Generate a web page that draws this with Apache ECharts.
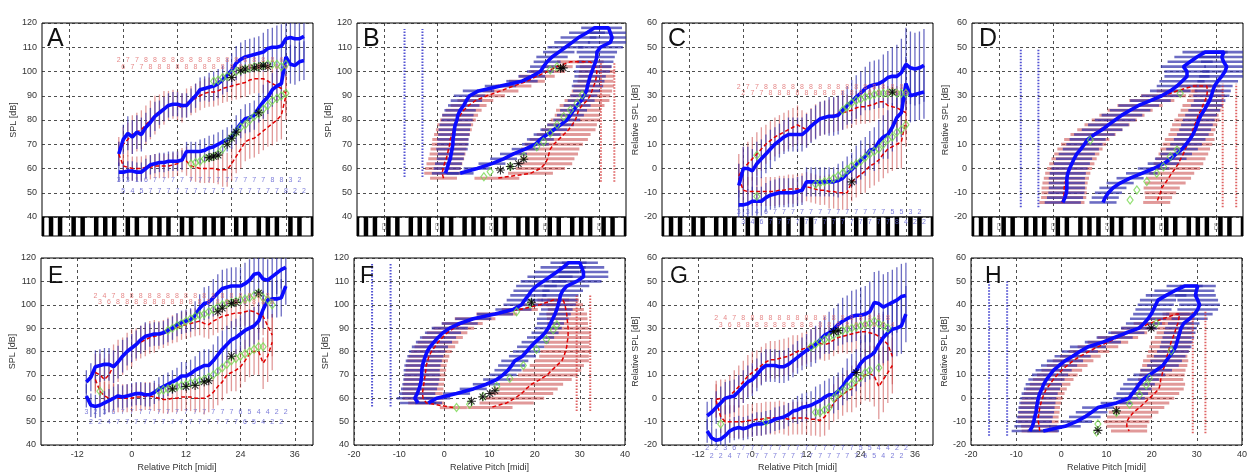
<!DOCTYPE html>
<html><head><meta charset="utf-8">
<script src="https://cdn.jsdelivr.net/npm/echarts@6/dist/echarts.min.js"></script>
<style>html,body{margin:0;padding:0;background:#fff;}#c{width:1250px;height:473px;}</style>
</head><body><div id="c"></div>
<script>
const n = null;
// ---------- shared axis data ----------
const keyPitches = [36,48,60,72,84];
const keyNames = ['C2','C3','C4','C5','C6'];
const blackKeys = [30,32,34,37,39,42,44,46,49,51,54,56,58,61,63,66,68,70,73,75,78,80,82,85,87,90];
const relTicks = [-12,0,12,24,36];

// ---------- Panel A (SPL vs MIDI pitch) ----------
const A_pitch = [47,48,49,50,51,52,53,54,55,56,57,58,59,60,61,62,63,64,65,66,67,68,69,70,71,72,73,74,75,76,77,78,79,80,81,82,83,84,85,86,87,88];
const A_upBlue = [66,72,74.5,73,75,74,77,79,81.5,83,84.5,86,86.5,86.5,86,86,88,90,92.5,93,93.5,94,95,96.5,98.5,100.5,103.5,105,106,106.5,107,107.5,108,109.5,110,110,110.5,113.5,114,113.5,113.5,114.5];
const A_loBlue = [58.5,58.5,59,59,58.5,58.5,60,61.5,62,62.5,62.5,63,63,63,63.5,67,67,67,67,67.5,68.5,69,70,71,72,73,76,78.5,80.5,81,82,85,87.5,89.5,92.5,94,95,106,103,102.5,104,104.5];
const A_upRed = [67,70,72,74,75,76,78,80,82,83.5,85,86,86.5,86,85,87,88,89,90,91,91.5,91.5,92,93,93.5,94,94.5,95,95.5,96.5,97,97,97,96,95,94,93,91,n,n,n,n];
const A_loRed = [66,61,60.5,60,60,60,60.5,60.5,61,61,61,61,61.5,62,63.5,63,61,60.5,60,60,60,60,59.5,59.5,59.5,62,65,68,71,72,72.5,74,75.5,77,78.5,80,82,90,n,n,n,n];
const A_sdUpBlue = [5,6,7,7,7,7,6,6,6,5,5,5,5,5,5,5,5,5,5,5,6,6,6,6,7,7,7,7,7,7,7,7,8,8,8,9,9,9,10,10,10,10];
const A_sdLoBlue = [4,4,4,4,4,4,4,4,4,4,4,4,4,4,4,4,4,4,5,5,5,5,5,5,5,5,6,6,6,6,6,6,7,7,7,7,7,8,8,8,8,8];
const A_sdUpRed = [6,7,7,8,8,8,8,8,8,7,7,6,6,6,6,6,6,6,6,6,6,6,6,6,6,6,6,6,6,6,6,6,6,6,7,7,8,8,n,n,n,n];
const A_sdLoRed = [5,5,5,5,5,5,5,5,5,5,5,5,5,5,5,6,6,6,6,6,6,6,6,7,7,7,7,8,8,8,8,8,8,8,9,9,10,10,n,n,n,n];
const A_redCount = [2,6,7,7,7,7,8,8,8,8,8,8,8,8,8,8,8,8,8,8,8,8,8,8,8,8,8,8,8,8,8,8,8,8,8,8,6,6,n,n,n,n];
const A_blueCount = [3,5,3,4,1,5,6,7,7,7,7,7,7,7,7,7,7,7,7,7,7,7,7,7,7,7,7,7,7,7,7,7,7,7,8,7,8,8,3,2,2,2];
const A_green = [[68,96],[69,96.5],[70,97.5],[71,98],[72,99],[73,100],[74,100.5],[75,101],[76,101.5],[77,102],[78,102],[79,102.5],[80,103],[81,103],[82,103],[83,102],[84,103],[63,62],[64,62.5],[65,63],[66,64],[67,64.5],[68,65],[69,66],[70,68],[71,71],[72,73],[73,75],[74,77],[75,78],[76,80],[77,81.5],[78,82.5],[79,84.5],[80,86],[81,88],[82,89],[83,90],[84,91]];
const A_star = [[72,97.5],[74,100.5],[75,101],[77,101.5],[78,102],[79,102.5],[80,102],[67,64.5],[68,65],[69,65.5],[71,70],[72,72.5],[73,75],[78,83]];

// ---------- Panel C (relative SPL vs MIDI pitch) ----------
const C_pitch = A_pitch;
const C_upBlue = [-7,0,0,-1,2,4,6,8,10,11.5,13,14,14,14,14,15.5,17.5,19,20.5,21,21.5,21.5,22,24,26,27.5,29.5,31,33,34,34.5,35,36,37.5,38,38,39.5,43,41.5,41,41.5,42.5];
const C_loBlue = [-15,-15,-14.5,-13.5,-13.5,-13.5,-12,-11,-10.5,-10,-10,-10,-10,-9.5,-9,-5.5,-5.5,-5.5,-5.5,-5.5,-5.5,-5.5,-5,-4,-2,-0.5,1.5,3.5,5,7.5,8,11,13,14,17,21,23,35,30,30.5,31,31.5];
const C_upRed = [-3,0,2,4,6,8,10,11.5,13,14,15,16,17,18,17,16,18,19.5,20.5,21,21.5,22,22.5,23,23.5,24,25,25.5,25.5,26,26.5,27.5,27.5,26,25.5,25,24,23,n,n,n,n];
const C_loRed = [-4,-9,-9.5,-9.5,-9.5,-9.5,-9.5,-9.5,-9.5,-9,-9,-8.5,-8.5,-8.5,-8,-7.5,-8,-8.5,-9,-9,-9.5,-9.5,-10,-10,-10,-5.5,-4,-2.5,-1,1,2,3.5,6,8,9,10,11,20,n,n,n,n];
const C_sdUpBlue = [9,9,9,9,9,8,8,8,7,7,7,7,7,7,7,7,7,7,7,7,8,8,8,8,8,9,9,9,9,10,10,10,11,11,12,13,14,15,15,15,15,15];
const C_sdLoBlue = [6,6,6,6,6,6,6,6,6,6,6,6,6,6,6,6,6,6,6,6,6,6,7,7,7,7,8,8,8,8,9,9,9,10,10,10,10,11,11,11,11,11];
const C_sdUpRed = [9,9,9,9,9,9,8,8,8,8,8,8,8,8,7,7,7,7,7,7,7,7,7,7,7,7,7,7,7,7,7,7,8,8,8,9,9,9,n,n,n,n];
const C_sdLoRed = [6,6,6,6,6,6,6,6,6,6,6,6,6,6,6,6,6,6,6,6,7,7,7,7,7,8,8,8,9,9,9,9,10,10,10,10,11,11,n,n,n,n];
const C_redCount = [2,2,7,7,7,7,8,8,8,8,8,8,8,8,8,8,8,8,8,8,8,8,8,8,8,8,8,8,8,8,8,8,8,8,8,8,8,8,n,n,n,n];
const C_blueCount = [3,3,3,4,4,6,6,7,7,7,7,7,7,7,7,7,7,7,7,7,7,7,7,7,7,7,7,7,7,7,7,7,7,7,5,8,5,4,3,2,2,2];
const C_green = [[70,24],[71,25.5],[72,27],[73,28],[74,28.5],[75,29.5],[76,30],[77,30.5],[78,31],[79,31],[80,31],[81,31.5],[82,31],[83,31],[84,31],[64,-6.5],[65,-6],[66,-5.5],[67,-5],[68,-4],[69,-3],[70,-2],[71,-0.5],[72,1],[73,2],[74,3],[75,4.5],[76,6],[77,7],[78,8],[79,10],[80,12],[81,13],[82,15],[83,16],[84,18],[51,5.5],[51,-11.5]];
const C_star = [[72,-5.5],[81,31.5]];

// ---------- Panel E (SPL vs relative pitch) ----------
const E_pitch = [-10,-9,-8,-7,-6,-5,-4,-3,-2,-1,0,1,2,3,4,5,6,7,8,9,10,11,12,13,14,15,16,17,18,19,20,21,22,23,24,25,26,27,28,29,30,31,32,33,34];
const E_upBlue = [67,69,73.5,74,74.5,74.5,73.5,75.5,78,80,81.5,83,85,86.5,87,87.5,87.5,88,89,90,91.5,92.5,93,93.5,95.5,98.5,100.5,101,103,105,107,107.5,108,108,108,109,110.5,113,113.5,111,110.5,112,113.5,115,116];
const E_loBlue = [61,57,56.5,57,58,59,60,61,60.5,61,61.5,62,62,61.5,61.5,62.5,64,65,66,67,68,69.5,69.5,70.5,72,73,74,74,76,78.5,81,83,85,86,87.5,89,90,91,93,98,102,102.5,102.5,103,108];
const E_upRed = [n,n,71,70,68,70,74,76,78,80,81.5,83,84,85,86,86.5,87,87.5,88.5,89.5,90,91,91.5,92,92.5,93,92,91.5,93,94,95,95.5,96,96.5,96.5,97,97.5,97,96,95,91,87,n,n,n];
const E_loRed = [n,n,68,63,61,60,60,60,60,60,60,60.5,60.5,61,61,60.5,60,59.5,59.5,60,60,60.5,60.5,60.5,60,60,60,61,62.5,65,67,70,71,72,73.5,76,79,80,80,75,78,84,n,n,n];
const E_sdUpBlue = [5,6,7,7,7,7,7,7,7,6,6,6,6,6,5,5,5,5,5,5,5,5,5,5,6,6,7,7,8,8,8,8,8,8,8,9,9,9,9,9,9,9,9,8,8];
const E_sdLoBlue = [5,5,5,5,5,5,5,5,5,5,5,5,5,5,5,5,5,5,5,5,5,6,6,6,6,7,7,7,7,8,8,8,8,8,8,8,8,8,8,8,8,8,8,8,8];
const E_sdUpRed = [n,n,8,9,9,9,9,9,8,8,8,7,7,7,7,7,6,6,6,6,6,6,6,6,6,6,6,6,6,6,6,6,6,6,6,6,7,7,8,8,9,9,n,n,n];
const E_sdLoRed = [n,n,6,6,6,6,6,6,6,6,6,6,6,6,6,6,6,6,6,6,6,6,6,6,6,6,7,7,7,8,8,8,8,9,9,9,10,10,10,11,11,12,n,n,n];
const E_redCount = [n,n,2,3,4,6,7,8,8,8,8,8,8,8,8,8,8,8,8,8,8,8,8,8,8,8,8,8,8,8,8,8,8,8,8,8,8,8,8,8,8,8,n,n,n];
const E_blueCount = [3,2,2,2,3,4,6,7,7,7,7,7,7,7,7,7,7,7,7,7,7,7,7,7,7,7,7,7,7,7,7,7,7,7,6,6,5,5,4,4,4,2,2,2,2];
const E_green = [[-7,63],[8,89],[9,90],[10,91],[11,92],[12,93],[13,94],[14,95],[15,95.5],[16,96],[17,97],[18,98],[19,99],[20,100],[21,100.5],[22,101],[23,101.5],[24,102],[25,102.5],[26,103],[27,104],[28,105],[29,103],[30,102],[31,100],[6,63],[7,63.5],[8,64],[9,64.5],[10,65],[11,65.5],[12,66],[13,66.5],[14,67],[15,67.5],[16,68],[17,69],[18,70],[19,71.5],[20,73],[21,74.5],[22,76],[23,77],[24,78],[25,79],[26,80],[27,81],[28,82],[29,82]];
const E_star = [[19,97],[20,98.5],[22,100.5],[23,101],[28,105],[9,64],[12,65],[14,65.5],[16,67],[17,67.5],[22,78]];

// ---------- Panel G (relative SPL vs relative pitch) ----------
const G_pitch = E_pitch;
const G_upBlue = [-7.5,-6,-4,-2,0,0.5,1,3,5,7,8,10,12.5,14,14,14,13.5,13.5,14.5,16,17.5,19,20.5,21.5,23,25,27,28,29.5,31.5,33,34,35,35.5,35.5,36,37,41,40.5,39,40,41,42,43.5,44];
const G_loBlue = [-14,-17,-18,-17.5,-16,-14,-13,-12.5,-13,-12.5,-11.5,-11,-11,-10.5,-10,-9,-8.5,-8,-7,-5.5,-5,-4,-3.5,-3,-2,-1,0.5,1.5,1.5,3,5,8,10,12,15,17,18,19.5,23,26,28,29.5,30,31,36];
const G_upRed = [n,n,-0.5,0,-1,1,3,5,7,9.5,11,12.5,14,15.5,16.5,16.5,17,17.5,18,19,20,21,21.5,22.5,23.5,23.5,23,23.5,25,26,26.5,27,27.5,28,28.5,28.5,28,27.5,26.5,25,23,18,n,n,n];
const G_loRed = [n,n,-1,-8,-10,-10,-10,-10,-10,-9.5,-9.5,-9,-9,-8.5,-8.5,-8.5,-8,-8.5,-9,-8.5,-8.5,-8.5,-8.5,-9,-9,-9.5,-8,-5.5,-2,0,1.5,3,4,6,8.5,10,10.5,9.5,5,8,11,14,n,n,n];
const G_sdUpBlue = [6,6,7,7,7,7,7,7,7,7,7,7,7,7,7,7,7,7,7,7,7,7,7,8,8,8,8,9,9,9,10,10,11,11,12,12,13,13,14,14,14,14,14,14,14];
const G_sdLoBlue = [5,5,5,5,5,5,5,5,5,5,5,5,5,5,5,5,5,5,5,5,6,6,6,6,7,7,7,7,8,8,8,9,9,9,10,10,10,11,11,11,12,12,12,12,12];
const G_sdUpRed = [n,n,8,8,9,9,9,9,9,9,9,8,8,8,8,8,8,8,8,8,7,7,7,7,7,7,7,7,7,7,7,8,8,8,8,9,9,10,10,11,12,12,n,n,n];
const G_sdLoRed = [n,n,7,7,7,7,7,7,7,7,7,7,7,7,7,7,7,7,7,7,7,7,7,7,7,7,8,8,8,9,9,9,10,10,11,11,12,13,14,14,13,12,n,n,n];
const G_redCount = [n,n,2,3,4,6,7,8,8,8,8,8,8,8,8,8,8,8,8,8,8,8,8,8,8,8,8,8,8,8,8,8,8,8,8,8,8,8,8,8,8,4,n,n,n];
const G_blueCount = [2,2,2,2,3,4,6,7,7,7,7,7,7,7,7,7,7,7,7,7,7,7,7,7,7,7,7,7,7,7,7,7,7,7,5,6,5,5,4,4,4,2,2,2,2];
const G_green = [[-7,-11],[13,22],[14,23],[15,24],[16,25],[17,26],[18,27],[19,28],[20,29],[21,29.5],[22,30],[23,30.5],[24,31],[25,31.5],[26,32],[27,33],[28,32],[29,31],[30,30],[3,-10],[14,-6],[15,-6],[16,-5],[17,-4],[18,0],[19,2],[20,3],[21,5],[22,6],[23,8],[24,9],[25,11],[26,12],[28,13]];
const G_star = [[18,28.5],[19,29],[23,11]];

// ---------- Panel B (pitch vs SPL level, loop) ----------
const B_spl = [56,58,60,62,64,66,68,70,72,74,76,78,80,82,84,86,88,90,92,94,96,98,100,102,104,106,108,110,112,114,116,118];
const B_blueL = [n,49.7,50.1,50.4,50.8,51,51.2,51.4,51.4,51.6,51.7,51.9,52.3,52.5,53,53.8,54.4,55.1,57.1,62,66.8,69,70.9,71.6,72.4,73.5,75,76.5,78,79.4,81.3,83];
const B_blueR = [n,53,56.8,60.1,62.7,64.9,67.5,69.8,70.9,72.4,73.9,75.4,76.8,77.6,78.3,79.1,80,80.6,81.2,81.4,81.7,82,82.4,82.8,83.2,83.5,83.5,84.3,86.5,86.9,86.5,86.1];
const B_redL = [49.3,49,49.2,49.5,49.9,50.2,50.4,50.7,50.8,51.2,51.6,51.9,52.5,53,53.8,54.9,56.4,59,62,64.9,67.9,70.1,72.4,74.6,77.6,n,n,n,n,n,n,n];
const B_redR = [61.2,68.7,70.9,72,72.5,72.8,73.1,73.9,75,76.1,77.2,78,78.7,79.1,79.4,80.2,81.3,82,82.4,82.8,83.2,83.4,83.5,83.2,82,n,n,n,n,n,n,n];
const B_sdBL = [n,3,3,3,3,3,3.5,3.5,3.5,3.5,3.5,3.5,3.5,3.5,3.5,3.5,3.5,3.5,3.5,3.5,3.5,3,3,3,3,3.5,3.5,4,4,4,4,3];
const B_sdBR = [n,3,3,3,3,3,3,3,3,3,3,3,3,3,3,3,3,3,3,3.5,3.5,3.5,4,4,4,4,4.5,5,5,5,4.5,3];
const B_sdRL = [3,4,4,4,4,4,4,4,4,4,4,4,4,4,4,4,4,4,4,4,4,4,4,3.5,3,n,n,n,n,n,n,n];
const B_sdRR = [5,5,5.5,6,6,6.5,6.5,6.5,6.5,6,6,5.5,5.5,5,5,5,5,4.5,4.5,4.5,4,4,4,3.5,3,n,n,n,n,n,n,n];
const B_green = [[58.3,56.6],[59.7,58.7],[64.2,60.8],[67.2,64.9],[70.1,69],[71.6,71],[73.1,74.5],[74.6,78],[76.1,81.4],[77.6,84.1],[79.1,86.9],[80.2,90.3],[73.1,100.6],[74.6,102]];
const B_star = [[62,59.4],[64.2,60.8],[66,62],[67.2,63.8],[75.4,101.3],[76,101.5]];
const B_colBlue = [40.6,44.6], B_colBlueRange = [56.5,117.5];
const B_colRed = [84.4,87.4], B_colRedRange = [54.5,104];

// ---------- Panel D ----------
const D_spl = [-14,-12,-10,-8,-6,-4,-2,0,2,4,6,8,10,12,14,16,18,20,22,24,26,28,30,32,34,36,38,40,42,44,46,48];
const D_blueL = [50.1,50.6,50.9,51,51,51,51.2,51.6,52.1,52.6,53.2,54.1,54.9,55.6,57.1,58.8,60.2,61.7,63.2,65,66.9,69.5,72,73.9,75.4,76.5,77.6,77.6,76.8,78.3,79.8,81.6];
const D_blueR = [59,59.5,60.2,61.2,62.8,65,67.6,70.2,72.4,74,75.2,76.5,77.4,78.2,78.9,79.4,79.8,80.2,80.7,81.4,82,82.6,83,83.3,83.7,84.4,85.3,86,86.4,85.7,85.3,85.8];
const D_redL = [49.9,50.3,50.4,50.4,50.6,50.9,51.2,51.6,52.1,52.6,53.2,53.9,54.7,55.4,56.8,58.3,59.9,61.5,63.2,65,67.2,69.8,72.4,75.4,79,n,n,n,n,n,n,n];
const D_redR = [70.9,71.3,71.7,72,72.8,73.5,74.2,75,75.7,76.2,76.8,77.2,77.7,78.2,78.5,78.9,79.3,79.8,80.1,80.7,81.1,81.6,82,82.1,82,n,n,n,n,n,n,n];
const D_sdBL = [4,4,4,4,4,4,4,4,4,4,4,4,4,4,4.5,4.5,4.5,4.5,4.5,4.5,4.5,4.5,4.5,4.5,4.5,5,5,5,5,5,5,5];
const D_sdBR = [3,3,3,3,3,3,3.5,3.5,3.5,3.5,3.5,3.5,3.5,3.5,3.5,3.5,3.5,3.5,3.5,3.5,3.5,3.5,4,4,4,4.5,5,5,5,5,5,5];
const D_sdRL = [5,5,5,5,5,5,5,5,5,5,5,5,5,5,5,5,5,5,5,5,5,5,5,4.5,4,n,n,n,n,n,n,n];
const D_sdRR = [3,3,3.5,4,4.5,5,5,5.5,5.5,5.5,5.5,5.5,5.5,5.5,5,5,5,5,4.5,4.5,4.5,4,4,3.5,3,n,n,n,n,n,n,n];
const D_green = [[56.2,11.75],[76.1,31],[65,-13],[66.5,-8.9],[68.7,-5.4],[70.9,-2],[72.4,0.75],[73.9,4.9],[75.4,7.6]];
const D_star = [];
const D_colBlue = [40.8,44.7], D_colBlueRange = [-16,49.5];
const D_colRed = [85.5,88.5], D_colRedRange = [-16,35];

// ---------- Panel F ----------
const F_spl = B_spl;
const F_blueL = [n,-5.8,-6.55,-6,-5.6,-5.3,-5.1,-5,-5,-4.85,-4.55,-4.2,-3.8,-3.2,-2.3,-1.4,-0.3,1.2,3.4,6.4,11.2,15.3,17.1,17.8,18.6,19.3,20.4,21.9,23.4,24.9,26.3,27.5];
const F_blueR = [n,-3.5,-1.7,2.7,6.4,9.3,11.6,13,14.1,14.9,15.6,17.3,18.2,19.1,20.1,21.3,22.3,23,23.5,24,24.5,24.9,25.2,25.5,25.7,26.2,27.1,29.3,30.8,30.8,30.4,30];
const F_redL = [2,-4,-4.7,-4.85,-4.7,-4.55,-4.4,-4.25,-4.1,-4,-3.7,-3.4,-2.85,-2.1,-1.4,-0.4,0.6,2.1,4,6.8,11.6,16.7,21.2,24.1,n,n,n,n,n,n,n,n];
const F_redR = [10.1,13.8,15.6,17.1,18.1,19.3,21.2,22.8,23.8,24.9,26,26.5,26.8,27.1,27.2,27.4,27.4,27.4,27.3,27.2,27.1,26.9,26.7,26.3,n,n,n,n,n,n,n,n];
const F_sdBL = [n,4,4,4,4,4,4,4,4,4,4,4,4,4,4,4,4,4,4,4,4,4,4,4,4,4,4.5,5,5,5,5,4];
const F_sdBR = [n,3,3,3,3,3,3,3,3,3,3,3,3,3,3,3,3,3,3,3.5,3.5,3.5,4,4,4,4.5,5,5.5,5.5,5.5,5,4];
const F_sdRL = [3,4,4.5,4.5,4.5,4.5,4.5,4.5,4.5,4.5,4.5,4.5,4.5,4.5,4.5,4.5,4.5,4.5,4.5,4.5,4.5,4,4,3.5,n,n,n,n,n,n,n,n];
const F_sdRR = [5,6,6.5,7,7,7,7,6.5,6.5,6,6,5.5,5.5,5,5,5,5,4.5,4.5,4.5,4.5,4,4,3.5,n,n,n,n,n,n,n,n];
const F_green = [[2.7,56],[5.6,57.4],[8.6,60.8],[11.6,65],[14.5,68.5],[17.5,74],[20.4,81],[22.6,85.1],[24.1,89.3],[24.9,91.4],[19,100.4],[16,97]];
const F_star = [[6,58.75],[8.5,60.6],[10.1,62],[11.2,63.2],[19.3,101.1]];
const F_colBlue = [-16,-11.9], F_colBlueRange = [56.5,118];
const F_colRed = [29.3,32.3], F_colRedRange = [54.5,104];

// ---------- Panel H ----------
const H_spl = [-16,-14,-12,-10,-8,-6,-4,-2,0,2,4,6,8,10,12,14,16,18,20,22,24,26,28,30,32,34,36,38,40,42,44,46,48];
const H_blueL = [n,-7,-6.4,-6.1,-5.9,-5.6,-5.5,-5.3,-5.1,-4.8,-4.3,-3.9,-3.3,-2.5,-1.7,-0.5,0.8,2.5,4.1,5.9,9.2,11.8,14.4,17.2,18.3,19.2,19.9,20.4,20.9,21.4,23.2,25.1,27.3];
const H_blueR = [n,-4,0.8,3.3,5.2,6.7,8.1,12.2,15,15.7,16.5,17.2,18.1,19.5,21,22.5,23.2,24,24.7,25.3,25.6,25.9,26.2,26.5,27.1,28.4,29.5,30.2,30.6,30.2,29.7,29.9,30.2];
const H_redL = [n,-4.8,-4.9,-5.1,-5.1,-4.9,-4.8,-4.5,-4.2,-3.8,-3.3,-2.5,-1.8,-0.9,0.1,1.3,2.6,4.2,6.1,8.1,10.3,12.5,15,17.3,19.5,22.5,25.4,n,n,n,n,n,n];
const H_redR = [n,15,14.5,14.5,15.1,16,17.3,18.4,19.5,20.6,21.6,21.9,22,22.3,22.5,22.9,23.1,23.4,23.7,24,24.3,24.7,25.1,25.4,25.8,26,26.2,n,n,n,n,n,n];
const H_sdBL = [n,4,4,4,4,4,4,4,4,4,4,4,4,4,4,4,4,4,4,4,4,4,4,4,4,4,4,4,4,4,4.5,4.5,4];
const H_sdBR = [n,3.5,3.5,3.5,3.5,3.5,3.5,3.5,3.5,3.5,3.5,3.5,3.5,3.5,3.5,3.5,3.5,3.5,3.5,3.5,3.5,3.5,3.5,3.5,3.5,4,4,4.5,4.5,4.5,4.5,4,4];
const H_sdRL = [n,4,4,4.5,4.5,4.5,4.5,4.5,4.5,4.5,4.5,4.5,4.5,4.5,4.5,4.5,4.5,4.5,4.5,4.5,4.5,4.5,4,4,3.5,3.5,3,n,n,n,n,n,n];
const H_sdRR = [n,4,4.5,5,5,5.5,5.5,5.5,5.5,5.5,5.5,5.5,5,5,5,5,5,4.5,4.5,4.5,4.5,4,4,4,3.5,3.5,3,n,n,n,n,n,n];
const H_green = [[8.1,-11],[7.8,-14.4],[12.2,-6.1],[15.1,-2.6],[17.3,1.5],[18.8,5.7],[19.5,8.5],[24.3,20.3],[21,32.1]];
const H_star = [[8.1,-13.75],[12.2,-5.4],[19.9,30]];
const H_colBlue = [-16,-12], H_colBlueRange = [-16,50];
const H_colRed = [29.1,31.9], H_colRedRange = [-15,37];

// ---------- panel configuration (layout / style) ----------
const P = [
 {L:'A',g:[42,23,271,194],lt:[42,22],kind:'line',top:true,ymin:40,yname:'SPL [dB]',pitch:A_pitch,ub:A_upBlue,lb:A_loBlue,ur:A_upRed,lr:A_loRed,sub:A_sdUpBlue,slb:A_sdLoBlue,sur:A_sdUpRed,slr:A_sdLoRed,rc:A_redCount,bc:A_blueCount,redRows:[104.7,102],blueRows:[55.3,50.5],green:A_green,star:A_star,keyLabels:false},
 {L:'B',g:[357,23,269,194],lt:[358,22],kind:'loop',top:true,ymin:40,yname:'SPL [dB]',spl:B_spl,bl:B_blueL,br:B_blueR,rl:B_redL,rr:B_redR,sbl:B_sdBL,sbr:B_sdBR,srl:B_sdRL,srr:B_sdRR,green:B_green,star:B_star,cb:B_colBlue,cbr:B_colBlueRange,cr:B_colRed,crr:B_colRedRange,keyLabels:true},
 {L:'C',g:[662,23,271,194],lt:[663,22],kind:'line',top:true,ymin:-20,yname:'Relative SPL [dB]',pitch:C_pitch,ub:C_upBlue,lb:C_loBlue,ur:C_upRed,lr:C_loRed,sub:C_sdUpBlue,slb:C_sdLoBlue,sur:C_sdUpRed,slr:C_sdLoRed,rc:C_redCount,bc:C_blueCount,redRows:[33.7,31],blueRows:[-17.8,-22],green:C_green,star:C_star,keyLabels:false},
 {L:'D',g:[972,23,271,194],lt:[974,22],kind:'loop',top:true,ymin:-20,yname:'Relative SPL [dB]',spl:D_spl,bl:D_blueL,br:D_blueR,rl:D_redL,rr:D_redR,sbl:D_sdBL,sbr:D_sdBR,srl:D_sdRL,srr:D_sdRR,green:D_green,star:D_star,cb:D_colBlue,cbr:D_colBlueRange,cr:D_colRed,crr:D_colRedRange,keyLabels:true},
 {L:'E',g:[41,258,272,192],lt:[43,260],kind:'line',top:false,rel12:true,ymin:40,yname:'SPL [dB]',pitch:E_pitch,ub:E_upBlue,lb:E_loBlue,ur:E_upRed,lr:E_loRed,sub:E_sdUpBlue,slb:E_sdLoBlue,sur:E_sdUpRed,slr:E_sdLoRed,rc:E_redCount,bc:E_blueCount,redRows:[103.9,101.1],blueRows:[53.9,49.7],green:E_green,star:E_star},
 {L:'F',g:[354,258,271,192],lt:[355,260],kind:'loop',top:false,ymin:40,yname:'SPL [dB]',spl:F_spl,bl:F_blueL,br:F_blueR,rl:F_redL,rr:F_redR,sbl:F_sdBL,sbr:F_sdBR,srl:F_sdRL,srr:F_sdRR,green:F_green,star:F_star,cb:F_colBlue,cbr:F_colBlueRange,cr:F_colRed,crr:F_colRedRange},
 {L:'G',g:[662,258,271,192],lt:[665,260],kind:'line',top:false,rel12:true,ymin:-20,yname:'Relative SPL [dB]',pitch:G_pitch,ub:G_upBlue,lb:G_loBlue,ur:G_upRed,lr:G_loRed,sub:G_sdUpBlue,slb:G_sdLoBlue,sur:G_sdUpRed,slr:G_sdLoRed,rc:G_redCount,bc:G_blueCount,redRows:[34.2,31.4],blueRows:[-21.4,-24.9],green:G_green,star:G_star},
 {L:'H',g:[971,258,272,192],lt:[980,260],kind:'loop',top:false,ymin:-20,yname:'Relative SPL [dB]',spl:H_spl,bl:H_blueL,br:H_blueR,rl:H_redL,rr:H_redR,sbl:H_sdBL,sbr:H_sdBR,srl:H_sdRL,srr:H_sdRR,green:H_green,star:H_star,cb:H_colBlue,cbr:H_colBlueRange,cr:H_colRed,crr:H_colRedRange}
];

const FONT = '"Liberation Sans", Arial, sans-serif';
const BLUE = '#0b0bff', RED = '#e00000';
const BARB = 'rgba(45,45,170,0.7)', BARR = 'rgba(200,70,70,0.55)';
const GREEN = '#78d850';
const grids = [], xAxes = [], yAxes = [], series = [], titles = [];

function vb(xs, vs, sd){ const o=[]; xs.forEach((x,i)=>{ if(vs[i]!=null && sd[i]!=null) o.push([x, vs[i], sd[i]]); }); return o; }
function hb(levels, xs, sd){ const o=[]; levels.forEach((v,i)=>{ if(xs[i]!=null && sd[i]!=null) o.push([xs[i], v, sd[i]]); }); return o; }
function pts(xs, vs){ const o=[]; xs.forEach((x,i)=>{ if(vs[i]!=null) o.push([x, vs[i]]); }); return o; }
function loop(levels, L, R){
  const a=[], b=[];
  levels.forEach((v,i)=>{ if(L[i]!=null) a.push([L[i],v]); if(R[i]!=null) b.push([R[i],v]); });
  return a.concat(b.reverse());
}
function countPts(xs, counts, rows){ const o=[]; xs.forEach((x,i)=>{ if(counts[i]!=null) o.push([x, rows[i%2], counts[i]]); }); return o; }

function barSeries(gi, data, color, horiz, w){
  return {type:'custom', xAxisIndex:gi, yAxisIndex:gi, clip:true, silent:true, z:2, data, encode:{x:0,y:1},
    renderItem:(params, api)=>{
      const x=api.value(0), y=api.value(1), s=api.value(2);
      const a = horiz ? api.coord([x-s,y]) : api.coord([x,y-s]);
      const b = horiz ? api.coord([x+s,y]) : api.coord([x,y+s]);
      return {type:'line', shape:{x1:a[0],y1:a[1],x2:b[0],y2:b[1]}, style:{stroke:color, lineWidth:w}};
    }};
}
function lineSeries(gi, data, color, w, dash, z){
  return {type:'line', xAxisIndex:gi, yAxisIndex:gi, data, symbol:'none', showSymbol:false, silent:true, z:z||4,
    lineStyle:{color, width:w, type: dash||'solid'}, clip:true};
}
function markers(gi, p){
  series.push({type:'scatter', xAxisIndex:gi, yAxisIndex:gi, data:p.green, symbol:'diamond', symbolSize:[6,8], silent:true, z:6,
    itemStyle:{color:'rgba(0,0,0,0)', borderColor:GREEN, borderWidth:1.2}});
  const plus = 'path://M4.4,0H5.6V4.4H10V5.6H5.6V10H4.4V5.6H0V4.4H4.4Z';
  [0,45].forEach(r=>series.push({type:'scatter', xAxisIndex:gi, yAxisIndex:gi, data:p.star, symbol:plus, symbolSize:9, symbolRotate:r, silent:true, z:7,
    itemStyle:{color:'#000'}}));
}
function numSeries(gi, data, color){
  return {type:'scatter', xAxisIndex:gi, yAxisIndex:gi, data, symbolSize:1, clip:false, silent:true, z:8,
    itemStyle:{color:'rgba(0,0,0,0)'},
    label:{show:true, position:'inside', formatter:(q)=>String(q.value[2]), fontSize:7, color, fontFamily:FONT}};
}

const split = {show:true, lineStyle:{color:'#222', type:[3,3], width:0.8}};

P.forEach((p, gi)=>{
  const [l,t,w,h] = p.g;
  grids.push({left:l, top:t, width:w, height:h, show:true, borderColor:'#000', borderWidth:1, backgroundColor:'#fff'});
  const xa = {type:'value', gridIndex:gi, min:p.top?30:-20, max:p.top?90:40,
    axisLine:{show:false}, axisTick:{show:false}, splitLine:split,
    axisLabel:{show:!p.top, fontSize:9, color:'#333', fontFamily:FONT, margin:5}};
  if (p.top){ xa.axisTick.customValues = keyPitches; xa.axisLabel.customValues = keyPitches; }
  else if (p.rel12){ xa.axisTick.customValues = relTicks; xa.axisLabel.customValues = relTicks; }
  else { xa.interval = 10; }
  if (!p.top){ xa.name='Relative Pitch [midi]'; xa.nameLocation='middle'; xa.nameGap=18; xa.nameTextStyle={fontSize:9, color:'#333', fontFamily:FONT}; }
  xAxes.push(xa);
  yAxes.push({type:'value', gridIndex:gi, min:p.ymin, max:p.ymin+80, interval:10,
    axisLine:{show:false}, axisTick:{show:false}, splitLine:split,
    axisLabel:{fontSize:9, color:'#333', fontFamily:FONT, margin:5},
    name:p.yname, nameLocation:'middle', nameGap:22, nameTextStyle:{fontSize:9, color:'#333', fontFamily:FONT}});
  titles.push({text:p.L, left:p.lt[0], top:p.lt[1], textStyle:{fontSize:p.top?25:23, fontWeight:'normal', color:'#111', fontFamily:FONT}});

  if (p.kind==='line'){
    series.push(barSeries(gi, vb(p.pitch,p.ur,p.sur), BARR, false, 1.3));
    series.push(barSeries(gi, vb(p.pitch,p.lr,p.slr), BARR, false, 1.3));
    series.push(barSeries(gi, vb(p.pitch,p.ub,p.sub), BARB, false, 1.3));
    series.push(barSeries(gi, vb(p.pitch,p.lb,p.slb), BARB, false, 1.3));
    series.push(lineSeries(gi, pts(p.pitch,p.ur), RED, 1.5, [4,2.5], 4));
    series.push(lineSeries(gi, pts(p.pitch,p.lr), RED, 1.5, [4,2.5], 4));
    markers(gi, p);
    series.push(lineSeries(gi, pts(p.pitch,p.ub), BLUE, 3.6, null, 5));
    series.push(lineSeries(gi, pts(p.pitch,p.lb), BLUE, 3.6, null, 5));
    series.push(numSeries(gi, countPts(p.pitch,p.rc,p.redRows), '#e06a6a'));
    series.push(numSeries(gi, countPts(p.pitch,p.bc,p.blueRows), '#5a5ad0'));
  } else {
    series.push(barSeries(gi, hb(p.spl,p.rl,p.srl), BARR, true, 3));
    series.push(barSeries(gi, hb(p.spl,p.rr,p.srr), BARR, true, 3));
    series.push(barSeries(gi, hb(p.spl,p.bl,p.sbl), BARB, true, 2.6));
    series.push(barSeries(gi, hb(p.spl,p.br,p.sbr), BARB, true, 2.6));
    p.cb.forEach(x=>series.push(lineSeries(gi, [[x,p.cbr[0]],[x,p.cbr[1]]], 'rgba(40,40,200,0.8)', 2, [1.5,1.5], 3)));
    p.cr.forEach(x=>series.push(lineSeries(gi, [[x,p.crr[0]],[x,p.crr[1]]], 'rgba(215,60,60,0.8)', 2, [1.5,1.5], 3)));
    series.push(lineSeries(gi, loop(p.spl,p.rl,p.rr), RED, 1.5, [4,2.5], 4));
    markers(gi, p);
    series.push(lineSeries(gi, loop(p.spl,p.bl,p.br), BLUE, 3.6, null, 5));
  }
});

// keyboards under the top-row panels
P.forEach((p, pi)=>{
  if (!p.top) return;
  const gi = grids.length;
  const [l,t,w,h] = p.g;
  grids.push({left:l, top:t+h, width:w, height:19, show:true, borderColor:'#000', borderWidth:1, backgroundColor:'#fff'});
  xAxes.push({type:'value', gridIndex:gi, min:30, max:90, axisLine:{show:false}, axisTick:{show:false, customValues:keyPitches},
    axisLabel:{show:false, customValues:keyPitches}, splitLine:split});
  yAxes.push({type:'value', gridIndex:gi, min:0, max:1, show:false, splitLine:{show:false}});
  series.push({type:'custom', xAxisIndex:gi, yAxisIndex:gi, clip:true, silent:true, z:3,
    data: blackKeys.map(k=>[k,0.5]), encode:{x:0,y:1},
    renderItem:(params, api)=>{
      const k=api.value(0); const a=api.coord([k-0.5,1]); const b=api.coord([k+0.5,0]);
      return {type:'rect', shape:{x:a[0], y:a[1], width:b[0]-a[0], height:b[1]-a[1]}, style:{fill:'#000'}};
    }});
  if (p.keyLabels){
    series.push({type:'scatter', xAxisIndex:gi, yAxisIndex:gi, symbolSize:1, silent:true, z:4,
      data:keyPitches.map((k,i)=>[k,0.5,keyNames[i]]), itemStyle:{color:'rgba(0,0,0,0)'},
      label:{show:true, position:'inside', rotate:90, formatter:(q)=>q.value[2], fontSize:6, color:'#555', fontFamily:FONT}});
  }
});

const chart = echarts.init(document.getElementById('c'), null, {renderer:'canvas'});
chart.setOption({
  animation:false, backgroundColor:'#fff',
  title:titles, grid:grids, xAxis:xAxes, yAxis:yAxes, series
});
</script></body></html>
